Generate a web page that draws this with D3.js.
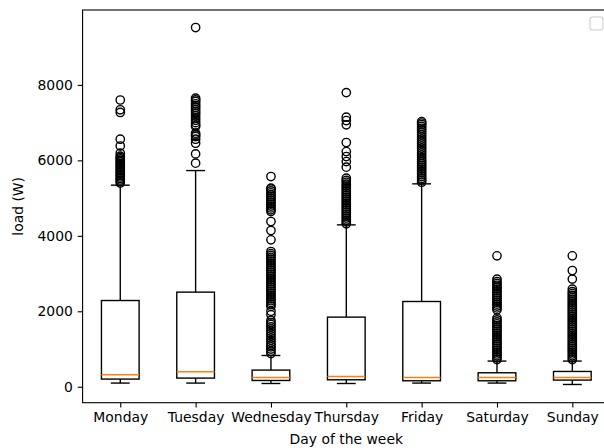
<!DOCTYPE html>
<html>
<head>
<meta charset="utf-8">
<script src="https://cdn.jsdelivr.net/npm/d3@7"></script>
<style>
  body { margin: 0; background: #fff; }
  svg { display: block; font-family: "DejaVu Sans", sans-serif; }
</style>
</head>
<body>
<svg id="chart" width="604" height="448"></svg>
<script>
// ---- data ----
const days = ["Monday", "Tuesday", "Wednesday", "Thursday", "Friday", "Saturday", "Sunday"];
const whiskerLow = [98, 98, 87, 87, 98, 98, 61];
const q1 = [204, 230, 167, 185, 159, 159, 177];
const median = [318, 397, 247, 273, 247, 247, 247];
const q3 = [2286, 2508, 442, 1846, 2260, 371, 406];
const whiskerHigh = [5343, 5730, 829, 4291, 5378, 681, 681];

const outMonday = [5400, 5440, 5480, 5520, 5560, 5600, 5640, 5680, 5720, 5760, 5800, 5840,
  5880, 5920, 5960, 6000, 6040, 6080, 6110, 6190, 6380, 6560, 7270, 7340, 7600];
const outTuesday = [5926, 6172, 6455, 6560, 6631, 6675, 6720, 6896, 6940, 7000, 7060, 7120,
  7180, 7240, 7290, 7340, 7400, 7450, 7500, 7560, 7603, 7648, 9520];
const outWednesday = [880, 940, 1000, 1060, 1110, 1170, 1230, 1290, 1350, 1410, 1470, 1530,
  1590, 1650, 1700, 1760, 1907, 2000, 2130, 2180, 2230, 2280, 2330, 2380, 2430, 2480, 2530,
  2580, 2630, 2680, 2730, 2780, 2830, 2880, 2930, 2980, 3030, 3080, 3130, 3180, 3230, 3280,
  3330, 3380, 3430, 3480, 3530, 3584, 3894, 4141, 4379, 4644, 4690, 4740, 4790, 4840, 4890,
  4940, 4990, 5040, 5090, 5140, 5190, 5240, 5264, 5571];
const outThursday = [4320, 4370, 4420, 4470, 4520, 4570, 4620, 4670, 4720, 4770, 4820, 4870,
  4920, 4970, 5020, 5070, 5120, 5170, 5220, 5270, 5320, 5370, 5420, 5470, 5528, 5820, 5968,
  6101, 6233, 6472, 6941, 7054, 7144, 7796];
const outFriday = [5420, 5470, 5520, 5570, 5620, 5670, 5720, 5770, 5820, 5870, 5920, 5970,
  6020, 6080, 6140, 6200, 6260, 6320, 6380, 6440, 6500, 6560, 6620, 6680, 6740, 6800, 6850,
  6900, 6950, 6990, 7028];
const outSaturday = [720, 770, 820, 870, 920, 970, 1020, 1070, 1120, 1170, 1220, 1270, 1320,
  1370, 1420, 1470, 1520, 1570, 1620, 1670, 1720, 1770, 1820, 2040, 2090, 2140, 2190, 2240,
  2290, 2340, 2390, 2440, 2490, 2540, 2590, 2640, 2690, 2740, 2790, 2853, 3470];
const outSunday = [720, 770, 820, 870, 920, 970, 1020, 1070, 1120, 1170, 1220, 1270, 1320,
  1370, 1420, 1470, 1520, 1570, 1620, 1670, 1720, 1770, 1820, 1870, 1920, 1970, 2020, 2070,
  2120, 2170, 2220, 2270, 2320, 2370, 2420, 2470, 2520, 2588, 2853, 3081, 3470];
const outliers = [outMonday, outTuesday, outWednesday, outThursday, outFriday, outSaturday, outSunday];

const yTicks = [0, 2000, 4000, 6000, 8000];

// ---- layout ----
const svg = d3.select("#chart");
const plotLeft = 82.6, plotRight = 610, plotTop = 10, plotBottom = 402.7;
const x = d3.scaleLinear().domain([0.5, 7.5]).range([plotLeft, plotRight]);
const y = d3.scaleLinear().domain([-422, 9985]).range([plotBottom, plotTop]);
const boxW = (x(1.5) - x(1));
const capW = boxW / 2;
const lw = 1.39;

const g = svg.append("g");

days.forEach((d, i) => {
  const cx = x(i + 1);
  const grp = g.append("g");
  grp.append("line").attr("x1", cx).attr("x2", cx).attr("y1", y(q1[i])).attr("y2", y(whiskerLow[i]))
    .attr("stroke", "#000").attr("stroke-width", lw);
  grp.append("line").attr("x1", cx).attr("x2", cx).attr("y1", y(q3[i])).attr("y2", y(whiskerHigh[i]))
    .attr("stroke", "#000").attr("stroke-width", lw);
  [whiskerLow[i], whiskerHigh[i]].forEach(v => {
    grp.append("line").attr("x1", cx - capW / 2).attr("x2", cx + capW / 2)
      .attr("y1", y(v)).attr("y2", y(v)).attr("stroke", "#000").attr("stroke-width", lw);
  });
  grp.append("rect").attr("x", cx - boxW / 2).attr("width", boxW)
    .attr("y", y(q3[i])).attr("height", y(q1[i]) - y(q3[i]))
    .attr("fill", "none").attr("stroke", "#000").attr("stroke-width", lw);
  grp.append("line").attr("x1", cx - boxW / 2).attr("x2", cx + boxW / 2)
    .attr("y1", y(median[i])).attr("y2", y(median[i]))
    .attr("stroke", "#ff7f0e").attr("stroke-width", lw);
  grp.selectAll("circle").data(outliers[i]).join("circle")
    .attr("cx", cx).attr("cy", v => y(v)).attr("r", 4.17)
    .attr("fill", "none").attr("stroke", "#000").attr("stroke-width", lw);
});

const xAxis = d3.axisBottom(x).tickValues([1, 2, 3, 4, 5, 6, 7])
  .tickFormat((d) => days[d - 1]).tickSize(4.86).tickPadding(4.86).tickSizeOuter(0);
const yAxis = d3.axisLeft(y).tickValues(yTicks).tickFormat(d3.format("d"))
  .tickSize(4.86).tickPadding(4.86).tickSizeOuter(0);

const gx = svg.append("g").attr("transform", `translate(0,${plotBottom})`).call(xAxis);
const gy = svg.append("g").attr("transform", `translate(${plotLeft},0)`).call(yAxis);
[gx, gy].forEach(a => {
  a.select(".domain").remove();
  a.selectAll(".tick line").attr("stroke", "#000").attr("stroke-width", 1.1);
  a.selectAll(".tick text").attr("fill", "#000").style("font-size", "13.9px")
    .style("font-family", "DejaVu Sans, sans-serif");
});

svg.append("rect").attr("x", plotLeft).attr("y", plotTop)
  .attr("width", plotRight - plotLeft).attr("height", plotBottom - plotTop)
  .attr("fill", "none").attr("stroke", "#000").attr("stroke-width", 1.1);

svg.append("text").attr("x", (plotLeft + plotRight) / 2).attr("y", 444)
  .attr("text-anchor", "middle").style("font-size", "13.9px").attr("fill", "#000")
  .text("Day of the week");
svg.append("text").attr("transform", `translate(23,${(plotTop + plotBottom) / 2}) rotate(-90)`)
  .attr("text-anchor", "middle").style("font-size", "13.9px").attr("fill", "#000")
  .text("load (W)");

svg.append("rect").attr("x", plotRight - 7 - 13).attr("y", plotTop + 7).attr("width", 13).attr("height", 13)
  .attr("rx", 2.5).attr("fill", "#fff").attr("fill-opacity", 0.8)
  .attr("stroke", "#ccc").attr("stroke-width", 1.1);
</script>
</body>
</html>
